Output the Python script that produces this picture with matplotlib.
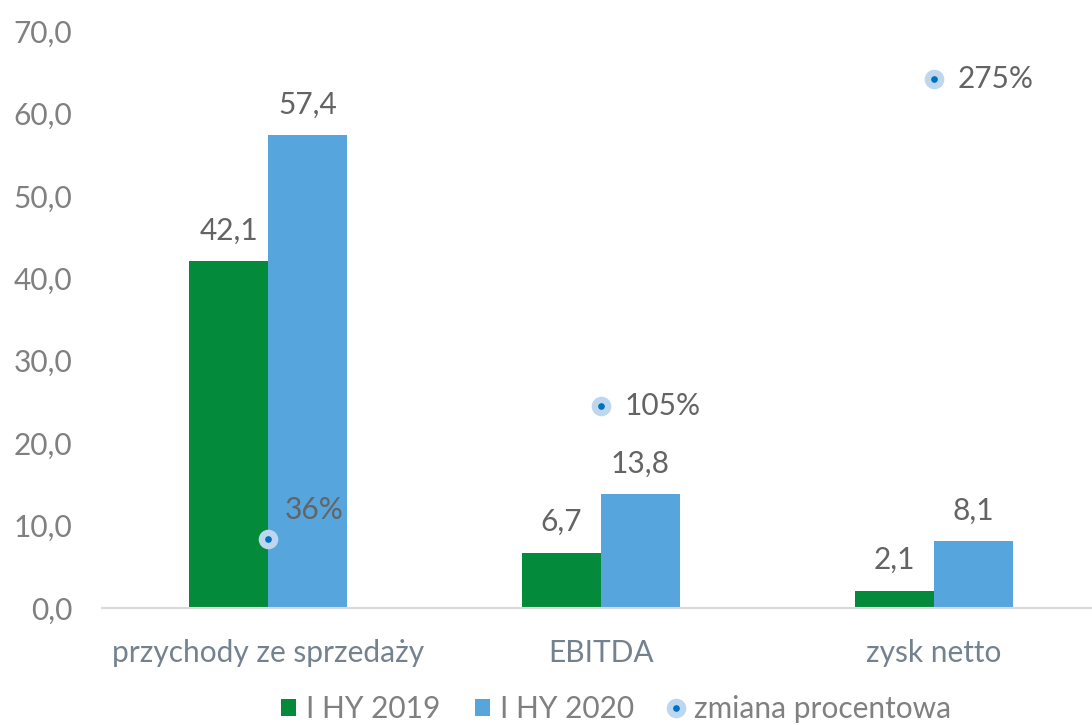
import matplotlib
matplotlib.use("Agg")
import matplotlib.pyplot as plt
from matplotlib.patches import Patch
from matplotlib.lines import Line2D
import numpy as np

plt.rcParams['font.family'] = ['Lato', 'DejaVu Sans']

categories = ["przychody ze sprzedaży", "EBITDA", "zysk netto"]
hy2019 = [42.1, 6.7, 2.1]
hy2020 = [57.4, 13.8, 8.1]
pct_change = [36, 105, 275]
series_names = ["I HY 2019", "I HY 2020", "zmiana procentowa"]
yticks = [0, 10, 20, 30, 40, 50, 60, 70]

GREEN = "#038A3A"
BLUE = "#56A5DD"
LIGHT = "#BDD7EE"
DARK = "#0070C0"
TICK_C = "#808080"
CAT_C = "#748290"
LAB_C = "#646464"
FS = 21.5

fig = plt.figure(figsize=(10.92, 7.25), dpi=100)
ax = fig.add_axes([101.5 / 1092, 117 / 725, 999 / 1092, 577 / 725])

x = np.arange(len(categories))
w = 0.2365
b1 = ax.bar(x - w / 2, hy2019, w, color=GREEN, zorder=2)
b2 = ax.bar(x + w / 2, hy2020, w, color=BLUE, zorder=2)

ax.set_xlim(-0.5, 2.5)
ax.set_ylim(0, 70)
ax.set_yticks(yticks)
ax.set_yticklabels([f"{v:.1f}".replace(".", ",") for v in yticks])
ax.set_xticks(x)
ax.set_xticklabels(categories)
ax.tick_params(axis='y', length=0, pad=21, labelsize=FS, labelcolor=TICK_C)
ax.tick_params(axis='x', length=0, pad=22, labelsize=FS, labelcolor=CAT_C)
for s in ["top", "right", "left"]:
    ax.spines[s].set_visible(False)
ax.spines["bottom"].set_color("#D9D9D9")
ax.spines["bottom"].set_linewidth(1.5)

for bars, vals in ((b1, hy2019), (b2, hy2020)):
    for r, v in zip(bars, vals):
        ax.annotate(f"{v:.1f}".replace(".", ","),
                    (r.get_x() + r.get_width() / 2, v),
                    xytext=(0, 22), textcoords="offset points",
                    ha="center", va="center", fontsize=FS, color=LAB_C)

ax2 = ax.twinx()
ax2.set_ylim(0, 300)
ax2.axis("off")
ax2.set_xlim(-0.5, 2.5)
ax2.plot(x, pct_change, linestyle="none", marker="o", ms=9.5,
         markerfacecolor=DARK, markeredgecolor=LIGHT, mew=4.6, zorder=3)
pct_offsets = [(12, 21), (17, 0), (17, 0)]
for xi, p, off in zip(x, pct_change, pct_offsets):
    ax2.annotate(f"{p}%", (xi, p), xytext=off, textcoords="offset points",
                 ha="left", va="center", fontsize=FS, color=LAB_C)

handles = [
    Patch(facecolor=GREEN, edgecolor="none"),
    Patch(facecolor=BLUE, edgecolor="none"),
    Line2D([], [], linestyle="none", marker="o", ms=9.5,
           markerfacecolor=DARK, markeredgecolor=LIGHT, mew=4.6),
]
leg = fig.legend(handles, series_names, loc="center", ncol=3,
                 bbox_to_anchor=(616 / 1092, 1 - 709 / 725),
                 frameon=False, fontsize=FS, labelcolor=TICK_C,
                 handlelength=0.5, handleheight=0.5, handletextpad=0.35,
                 columnspacing=1.15, borderaxespad=0, borderpad=0)

fig.savefig("out.png", dpi=100)
